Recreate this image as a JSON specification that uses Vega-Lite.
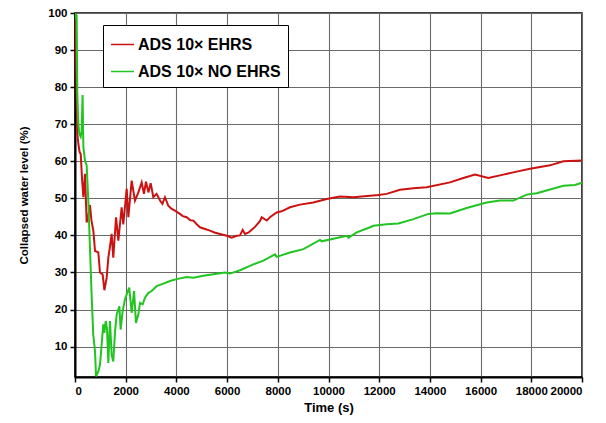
{
  "$schema": "https://vega.github.io/schema/vega-lite/v6.json",
  "width": 507,
  "height": 364,
  "autosize": "none",
  "padding": {"left": 75, "top": 13, "right": 24, "bottom": 46},
  "background": "white",
  "config": {
    "view": {"stroke": "black", "strokeWidth": 1.5},
    "axis": {
      "domainColor": "black",
      "domainWidth": 2,
      "tickColor": "black",
      "tickWidth": 1.5,
      "tickSize": 5,
      "labelFont": "Liberation Sans",
      "labelFontWeight": "bold",
      "labelFontSize": 11.5,
      "labelColor": "black",
      "labelPadding": 3,
      "titleFont": "Liberation Sans",
      "titleFontWeight": "bold",
      "titleColor": "black",
      "grid": true,
      "gridColor": "#6a6a6a",
      "gridWidth": 1.1
    }
  },
  "datasets": {
    "curves": [
      {"t": 0, "v": 100, "s": "ADS 10× EHRS"},
      {"t": 40, "v": 88, "s": "ADS 10× EHRS"},
      {"t": 80, "v": 72, "s": "ADS 10× EHRS"},
      {"t": 92, "v": 67.5, "s": "ADS 10× EHRS"},
      {"t": 130, "v": 64.8, "s": "ADS 10× EHRS"},
      {"t": 180, "v": 62.5, "s": "ADS 10× EHRS"},
      {"t": 225, "v": 62, "s": "ADS 10× EHRS"},
      {"t": 280, "v": 55, "s": "ADS 10× EHRS"},
      {"t": 330, "v": 50.3, "s": "ADS 10× EHRS"},
      {"t": 395, "v": 56.6, "s": "ADS 10× EHRS"},
      {"t": 460, "v": 43.5, "s": "ADS 10× EHRS"},
      {"t": 520, "v": 45, "s": "ADS 10× EHRS"},
      {"t": 590, "v": 48.2, "s": "ADS 10× EHRS"},
      {"t": 650, "v": 44, "s": "ADS 10× EHRS"},
      {"t": 725, "v": 41.2, "s": "ADS 10× EHRS"},
      {"t": 790, "v": 35.8, "s": "ADS 10× EHRS"},
      {"t": 920, "v": 35.4, "s": "ADS 10× EHRS"},
      {"t": 985, "v": 30, "s": "ADS 10× EHRS"},
      {"t": 1090, "v": 29.5, "s": "ADS 10× EHRS"},
      {"t": 1160, "v": 25.2, "s": "ADS 10× EHRS"},
      {"t": 1250, "v": 28.6, "s": "ADS 10× EHRS"},
      {"t": 1315, "v": 34, "s": "ADS 10× EHRS"},
      {"t": 1380, "v": 37, "s": "ADS 10× EHRS"},
      {"t": 1445, "v": 40.4, "s": "ADS 10× EHRS"},
      {"t": 1510, "v": 34, "s": "ADS 10× EHRS"},
      {"t": 1620, "v": 44.9, "s": "ADS 10× EHRS"},
      {"t": 1710, "v": 38.6, "s": "ADS 10× EHRS"},
      {"t": 1840, "v": 47.6, "s": "ADS 10× EHRS"},
      {"t": 1905, "v": 43, "s": "ADS 10× EHRS"},
      {"t": 2040, "v": 52.6, "s": "ADS 10× EHRS"},
      {"t": 2105, "v": 44.9, "s": "ADS 10× EHRS"},
      {"t": 2235, "v": 54.8, "s": "ADS 10× EHRS"},
      {"t": 2365, "v": 49.4, "s": "ADS 10× EHRS"},
      {"t": 2500, "v": 51.6, "s": "ADS 10× EHRS"},
      {"t": 2630, "v": 54.3, "s": "ADS 10× EHRS"},
      {"t": 2720, "v": 51.2, "s": "ADS 10× EHRS"},
      {"t": 2800, "v": 54.5, "s": "ADS 10× EHRS"},
      {"t": 2895, "v": 51.6, "s": "ADS 10× EHRS"},
      {"t": 2985, "v": 54.1, "s": "ADS 10× EHRS"},
      {"t": 3090, "v": 50.3, "s": "ADS 10× EHRS"},
      {"t": 3220, "v": 51.2, "s": "ADS 10× EHRS"},
      {"t": 3355, "v": 49.4, "s": "ADS 10× EHRS"},
      {"t": 3450, "v": 48.5, "s": "ADS 10× EHRS"},
      {"t": 3550, "v": 50.3, "s": "ADS 10× EHRS"},
      {"t": 3680, "v": 48, "s": "ADS 10× EHRS"},
      {"t": 3800, "v": 47.2, "s": "ADS 10× EHRS"},
      {"t": 3945, "v": 46.7, "s": "ADS 10× EHRS"},
      {"t": 4140, "v": 45.8, "s": "ADS 10× EHRS"},
      {"t": 4250, "v": 45.2, "s": "ADS 10× EHRS"},
      {"t": 4405, "v": 44.9, "s": "ADS 10× EHRS"},
      {"t": 4550, "v": 44.1, "s": "ADS 10× EHRS"},
      {"t": 4670, "v": 44, "s": "ADS 10× EHRS"},
      {"t": 4800, "v": 43, "s": "ADS 10× EHRS"},
      {"t": 4930, "v": 42.2, "s": "ADS 10× EHRS"},
      {"t": 5100, "v": 41.8, "s": "ADS 10× EHRS"},
      {"t": 5325, "v": 41.3, "s": "ADS 10× EHRS"},
      {"t": 5500, "v": 40.8, "s": "ADS 10× EHRS"},
      {"t": 5720, "v": 40.4, "s": "ADS 10× EHRS"},
      {"t": 5985, "v": 39.9, "s": "ADS 10× EHRS"},
      {"t": 6180, "v": 39.4, "s": "ADS 10× EHRS"},
      {"t": 6380, "v": 39.9, "s": "ADS 10× EHRS"},
      {"t": 6510, "v": 40, "s": "ADS 10× EHRS"},
      {"t": 6615, "v": 41.5, "s": "ADS 10× EHRS"},
      {"t": 6705, "v": 40.4, "s": "ADS 10× EHRS"},
      {"t": 6850, "v": 40.8, "s": "ADS 10× EHRS"},
      {"t": 6970, "v": 41.5, "s": "ADS 10× EHRS"},
      {"t": 7100, "v": 42.3, "s": "ADS 10× EHRS"},
      {"t": 7300, "v": 43.9, "s": "ADS 10× EHRS"},
      {"t": 7365, "v": 44.9, "s": "ADS 10× EHRS"},
      {"t": 7565, "v": 44, "s": "ADS 10× EHRS"},
      {"t": 7690, "v": 44.9, "s": "ADS 10× EHRS"},
      {"t": 7955, "v": 46.2, "s": "ADS 10× EHRS"},
      {"t": 8150, "v": 46.5, "s": "ADS 10× EHRS"},
      {"t": 8480, "v": 47.6, "s": "ADS 10× EHRS"},
      {"t": 8875, "v": 48.3, "s": "ADS 10× EHRS"},
      {"t": 9400, "v": 48.9, "s": "ADS 10× EHRS"},
      {"t": 9930, "v": 49.8, "s": "ADS 10× EHRS"},
      {"t": 10455, "v": 50.5, "s": "ADS 10× EHRS"},
      {"t": 10980, "v": 50.3, "s": "ADS 10× EHRS"},
      {"t": 11640, "v": 50.7, "s": "ADS 10× EHRS"},
      {"t": 11965, "v": 50.9, "s": "ADS 10× EHRS"},
      {"t": 12295, "v": 51.2, "s": "ADS 10× EHRS"},
      {"t": 12820, "v": 52.3, "s": "ADS 10× EHRS"},
      {"t": 13350, "v": 52.7, "s": "ADS 10× EHRS"},
      {"t": 13875, "v": 53, "s": "ADS 10× EHRS"},
      {"t": 14790, "v": 54.3, "s": "ADS 10× EHRS"},
      {"t": 15320, "v": 55.5, "s": "ADS 10× EHRS"},
      {"t": 15780, "v": 56.4, "s": "ADS 10× EHRS"},
      {"t": 16305, "v": 55.5, "s": "ADS 10× EHRS"},
      {"t": 16895, "v": 56.4, "s": "ADS 10× EHRS"},
      {"t": 17425, "v": 57.2, "s": "ADS 10× EHRS"},
      {"t": 17950, "v": 58, "s": "ADS 10× EHRS"},
      {"t": 18740, "v": 58.9, "s": "ADS 10× EHRS"},
      {"t": 19265, "v": 60, "s": "ADS 10× EHRS"},
      {"t": 20000, "v": 60.2, "s": "ADS 10× EHRS"},
      {"t": 0, "v": 100, "s": "ADS 10× NO EHRS"},
      {"t": 30, "v": 99, "s": "ADS 10× NO EHRS"},
      {"t": 65, "v": 99.5, "s": "ADS 10× NO EHRS"},
      {"t": 90, "v": 78.4, "s": "ADS 10× NO EHRS"},
      {"t": 130, "v": 70.2, "s": "ADS 10× NO EHRS"},
      {"t": 170, "v": 67.5, "s": "ADS 10× NO EHRS"},
      {"t": 225, "v": 66.6, "s": "ADS 10× NO EHRS"},
      {"t": 260, "v": 67.9, "s": "ADS 10× NO EHRS"},
      {"t": 300, "v": 77.9, "s": "ADS 10× NO EHRS"},
      {"t": 330, "v": 63.8, "s": "ADS 10× NO EHRS"},
      {"t": 395, "v": 60.2, "s": "ADS 10× NO EHRS"},
      {"t": 460, "v": 58.9, "s": "ADS 10× NO EHRS"},
      {"t": 525, "v": 49.4, "s": "ADS 10× NO EHRS"},
      {"t": 590, "v": 36.7, "s": "ADS 10× NO EHRS"},
      {"t": 655, "v": 24.1, "s": "ADS 10× NO EHRS"},
      {"t": 720, "v": 13.2, "s": "ADS 10× NO EHRS"},
      {"t": 790, "v": 8.7, "s": "ADS 10× NO EHRS"},
      {"t": 830, "v": 2, "s": "ADS 10× NO EHRS"},
      {"t": 920, "v": 3.3, "s": "ADS 10× NO EHRS"},
      {"t": 985, "v": 5.1, "s": "ADS 10× NO EHRS"},
      {"t": 1050, "v": 10.5, "s": "ADS 10× NO EHRS"},
      {"t": 1115, "v": 16, "s": "ADS 10× NO EHRS"},
      {"t": 1160, "v": 13.7, "s": "ADS 10× NO EHRS"},
      {"t": 1210, "v": 16.9, "s": "ADS 10× NO EHRS"},
      {"t": 1260, "v": 15, "s": "ADS 10× NO EHRS"},
      {"t": 1315, "v": 5.6, "s": "ADS 10× NO EHRS"},
      {"t": 1355, "v": 13.3, "s": "ADS 10× NO EHRS"},
      {"t": 1380, "v": 16.9, "s": "ADS 10× NO EHRS"},
      {"t": 1445, "v": 7.8, "s": "ADS 10× NO EHRS"},
      {"t": 1510, "v": 6, "s": "ADS 10× NO EHRS"},
      {"t": 1580, "v": 14.1, "s": "ADS 10× NO EHRS"},
      {"t": 1645, "v": 18.7, "s": "ADS 10× NO EHRS"},
      {"t": 1750, "v": 20.9, "s": "ADS 10× NO EHRS"},
      {"t": 1800, "v": 14.6, "s": "ADS 10× NO EHRS"},
      {"t": 1880, "v": 19.6, "s": "ADS 10× NO EHRS"},
      {"t": 1970, "v": 22.7, "s": "ADS 10× NO EHRS"},
      {"t": 2040, "v": 24.1, "s": "ADS 10× NO EHRS"},
      {"t": 2140, "v": 25.9, "s": "ADS 10× NO EHRS"},
      {"t": 2235, "v": 19.1, "s": "ADS 10× NO EHRS"},
      {"t": 2330, "v": 25, "s": "ADS 10× NO EHRS"},
      {"t": 2405, "v": 16.4, "s": "ADS 10× NO EHRS"},
      {"t": 2500, "v": 18.7, "s": "ADS 10× NO EHRS"},
      {"t": 2565, "v": 21.8, "s": "ADS 10× NO EHRS"},
      {"t": 2670, "v": 21.4, "s": "ADS 10× NO EHRS"},
      {"t": 2760, "v": 23.2, "s": "ADS 10× NO EHRS"},
      {"t": 2895, "v": 24.5, "s": "ADS 10× NO EHRS"},
      {"t": 3025, "v": 25, "s": "ADS 10× NO EHRS"},
      {"t": 3220, "v": 26.3, "s": "ADS 10× NO EHRS"},
      {"t": 3485, "v": 27, "s": "ADS 10× NO EHRS"},
      {"t": 3750, "v": 27.7, "s": "ADS 10× NO EHRS"},
      {"t": 4010, "v": 28.2, "s": "ADS 10× NO EHRS"},
      {"t": 4405, "v": 28.8, "s": "ADS 10× NO EHRS"},
      {"t": 4670, "v": 28.6, "s": "ADS 10× NO EHRS"},
      {"t": 5060, "v": 29.1, "s": "ADS 10× NO EHRS"},
      {"t": 5455, "v": 29.5, "s": "ADS 10× NO EHRS"},
      {"t": 5920, "v": 30, "s": "ADS 10× NO EHRS"},
      {"t": 6115, "v": 29.7, "s": "ADS 10× NO EHRS"},
      {"t": 6510, "v": 30.6, "s": "ADS 10× NO EHRS"},
      {"t": 7035, "v": 32.2, "s": "ADS 10× NO EHRS"},
      {"t": 7430, "v": 33.2, "s": "ADS 10× NO EHRS"},
      {"t": 7890, "v": 34.9, "s": "ADS 10× NO EHRS"},
      {"t": 7955, "v": 34.2, "s": "ADS 10× NO EHRS"},
      {"t": 8480, "v": 35.4, "s": "ADS 10× NO EHRS"},
      {"t": 9010, "v": 36.3, "s": "ADS 10× NO EHRS"},
      {"t": 9665, "v": 38.8, "s": "ADS 10× NO EHRS"},
      {"t": 9730, "v": 38.4, "s": "ADS 10× NO EHRS"},
      {"t": 10325, "v": 39.3, "s": "ADS 10× NO EHRS"},
      {"t": 10720, "v": 39.9, "s": "ADS 10× NO EHRS"},
      {"t": 10790, "v": 39.4, "s": "ADS 10× NO EHRS"},
      {"t": 11115, "v": 40.8, "s": "ADS 10× NO EHRS"},
      {"t": 11640, "v": 42.2, "s": "ADS 10× NO EHRS"},
      {"t": 11770, "v": 42.6, "s": "ADS 10× NO EHRS"},
      {"t": 12295, "v": 43, "s": "ADS 10× NO EHRS"},
      {"t": 12755, "v": 43.2, "s": "ADS 10× NO EHRS"},
      {"t": 13350, "v": 44.4, "s": "ADS 10× NO EHRS"},
      {"t": 13940, "v": 45.8, "s": "ADS 10× NO EHRS"},
      {"t": 14270, "v": 46, "s": "ADS 10× NO EHRS"},
      {"t": 14790, "v": 45.9, "s": "ADS 10× NO EHRS"},
      {"t": 15450, "v": 47.4, "s": "ADS 10× NO EHRS"},
      {"t": 16240, "v": 48.9, "s": "ADS 10× NO EHRS"},
      {"t": 16765, "v": 49.4, "s": "ADS 10× NO EHRS"},
      {"t": 17290, "v": 49.4, "s": "ADS 10× NO EHRS"},
      {"t": 17820, "v": 51, "s": "ADS 10× NO EHRS"},
      {"t": 18215, "v": 51.4, "s": "ADS 10× NO EHRS"},
      {"t": 18740, "v": 52.4, "s": "ADS 10× NO EHRS"},
      {"t": 19265, "v": 53.4, "s": "ADS 10× NO EHRS"},
      {"t": 19725, "v": 53.6, "s": "ADS 10× NO EHRS"},
      {"t": 20000, "v": 54.2, "s": "ADS 10× NO EHRS"}
    ]
  },
  "data": {"name": "curves"},
  "mark": {"type": "line", "strokeWidth": 2, "clip": true},
  "encoding": {
    "x": {
      "field": "t",
      "type": "quantitative",
      "scale": {"domain": [0, 20000], "nice": false},
      "axis": {
        "title": "Time (s)",
        "titleFontSize": 13,
        "titlePadding": 5,
        "values": [0, 2000, 4000, 6000, 8000, 10000, 12000, 14000, 16000, 18000, 20000],
        "format": "d"
      }
    },
    "y": {
      "field": "v",
      "type": "quantitative",
      "scale": {"domain": [1.8, 100], "nice": false, "zero": false},
      "axis": {
        "title": "Collapsed water level  (%)",
        "titleFontSize": 11.5,
        "titlePadding": 18,
        "values": [10, 20, 30, 40, 50, 60, 70, 80, 90, 100]
      }
    },
    "color": {
      "field": "s",
      "type": "nominal",
      "scale": {"domain": ["ADS 10× EHRS", "ADS 10× NO EHRS"], "range": ["#cc1111", "#22c422"]},
      "legend": {
        "title": null,
        "orient": "none",
        "legendX": 28,
        "legendY": 12,
        "fillColor": "white",
        "strokeColor": "black",
        "padding": 7,
        "rowPadding": 6,
        "symbolType": "stroke",
        "symbolSize": 529,
        "symbolStrokeWidth": 1.5,
        "labelFont": "Liberation Sans",
        "labelFontWeight": "bold",
        "labelFontSize": 16,
        "labelColor": "black",
        "labelOffset": 3,
        "labelLimit": 300
      }
    }
  }
}
